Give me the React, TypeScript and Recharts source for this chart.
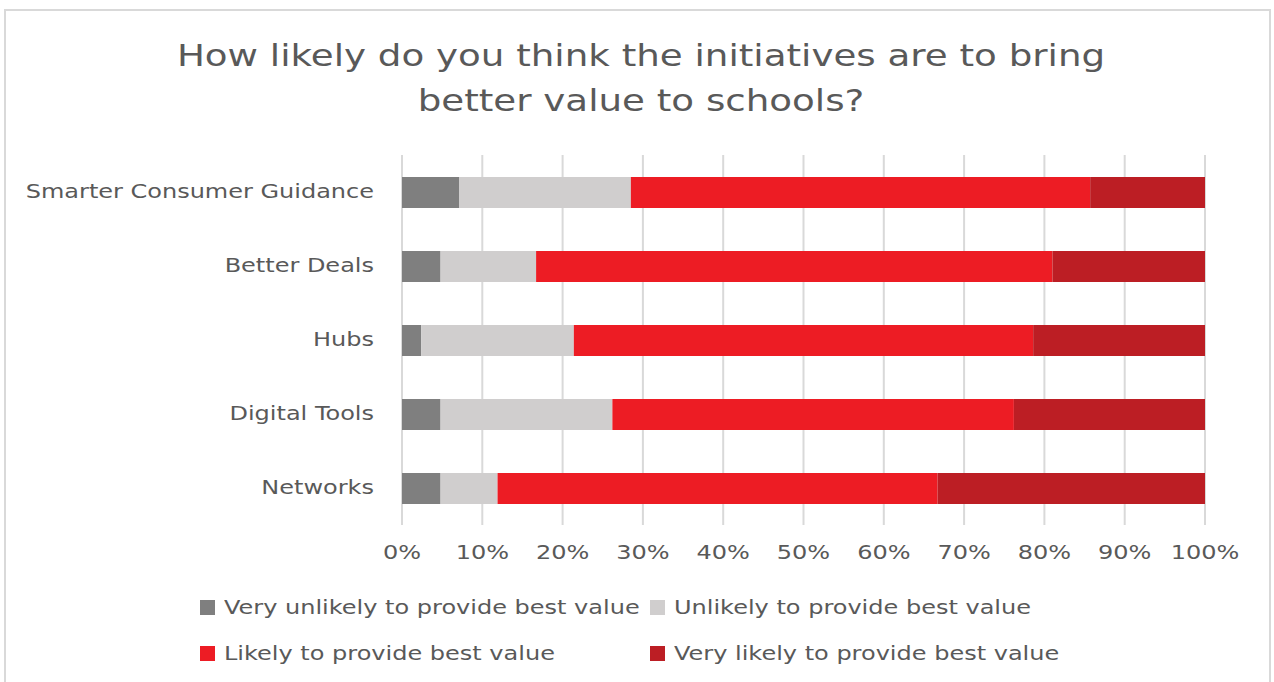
import { Bar, BarChart, CartesianGrid, XAxis, YAxis } from "recharts";

const categories = [
  "Smarter Consumer Guidance",
  "Better Deals",
  "Hubs",
  "Digital Tools",
  "Networks",
];
const veryUnlikely = [7.1, 4.8, 2.4, 4.8, 4.8];
const unlikely = [21.4, 11.9, 19.0, 21.4, 7.1];
const likely = [57.2, 64.3, 57.2, 50.0, 54.8];
const veryLikely = [14.3, 19.0, 21.4, 23.8, 33.3];
const xTicks = [0, 10, 20, 30, 40, 50, 60, 70, 80, 90, 100];

const seriesNames = [
  "Very unlikely to provide best value",
  "Unlikely to provide best value",
  "Likely to provide best value",
  "Very likely to provide best value",
];
const seriesColors = ["#7f7f7f", "#d0cece", "#ed1c24", "#bc1e24"];

const data = categories.map((name, i) => ({
  name,
  s0: veryUnlikely[i],
  s1: unlikely[i],
  s2: likely[i],
  s3: veryLikely[i],
}));

const FONT = "'DejaVu Sans', sans-serif";
const TEXT = "#595959";
const STRETCH = 1.2; // the source image is stretched sideways

// tick text drawn wider, like the source
function StretchTick(props: any) {
  const { x, y, payload, anchor, dy, fmt } = props;
  return (
    <g transform={`translate(${x},${y})`}>
      <text
        transform={`scale(${STRETCH},1)`}
        textAnchor={anchor}
        dy={dy}
        fill={TEXT}
        fontSize={20}
        fontFamily={FONT}
      >
        {fmt ? fmt(payload.value) : payload.value}
      </text>
    </g>
  );
}

function LegendItem({ color, label, x, y }: { color: string; label: string; x: number; y: number }) {
  return (
    <div style={{ position: "absolute", left: x, top: y, display: "flex", alignItems: "center" }}>
      <div style={{ width: 15, height: 15, background: color, marginRight: 9 }} />
      <span
        style={{
          fontSize: 20,
          color: TEXT,
          fontFamily: FONT,
          whiteSpace: "nowrap",
          display: "inline-block",
          transform: `scaleX(${STRETCH})`,
          transformOrigin: "left center",
        }}
      >
        {label}
      </span>
    </div>
  );
}

export default function App() {
  return (
    <div style={{ position: "absolute", left: 0, top: 0, width: 1274, height: 682, background: "#fff", overflow: "hidden" }}>
      <div style={{ position: "absolute", left: 4, top: 9, width: 1267, height: 690, border: "2px solid #d9d9d9", boxSizing: "border-box" }} />
      <div
        style={{
          position: "absolute",
          left: 0,
          width: 1282,
          top: 33,
          textAlign: "center",
          fontFamily: FONT,
          fontSize: 31,
          lineHeight: "45px",
          color: TEXT,
          transform: `scaleX(${STRETCH})`,
          transformOrigin: "641px 0",
        }}
      >
        How likely do you think the initiatives are to bring
        <br />
        better value to schools?
      </div>
      <div style={{ position: "absolute", left: 0, top: 0 }}>
        <BarChart
          width={1274}
          height={682}
          data={data}
          layout="vertical"
          margin={{ top: 155, right: 69, left: 0, bottom: 117 }}
          barSize={31}
        >
          <CartesianGrid horizontal={false} stroke="#d9d9d9" strokeWidth={2} />
          <XAxis
            type="number"
            domain={[0, 100]}
            ticks={xTicks}
            tick={<StretchTick anchor="middle" dy="0.71em" fmt={(v: number) => `${v}%`} />}
            tickLine={false}
            axisLine={false}
            tickSize={0}
            tickMargin={20}
            height={40}
          />
          <YAxis
            type="category"
            dataKey="name"
            width={402}
            tick={<StretchTick anchor="end" dy="0.32em" />}
            tickLine={false}
            axisLine={false}
            tickSize={0}
            tickMargin={28}
          />
          {["s0", "s1", "s2", "s3"].map((k, i) => (
            <Bar key={k} dataKey={k} stackId="a" fill={seriesColors[i]} isAnimationActive={false} />
          ))}
        </BarChart>
      </div>
      <LegendItem color={seriesColors[0]} label={seriesNames[0]} x={200} y={595} />
      <LegendItem color={seriesColors[1]} label={seriesNames[1]} x={650} y={595} />
      <LegendItem color={seriesColors[2]} label={seriesNames[2]} x={200} y={641} />
      <LegendItem color={seriesColors[3]} label={seriesNames[3]} x={650} y={641} />
    </div>
  );
}
